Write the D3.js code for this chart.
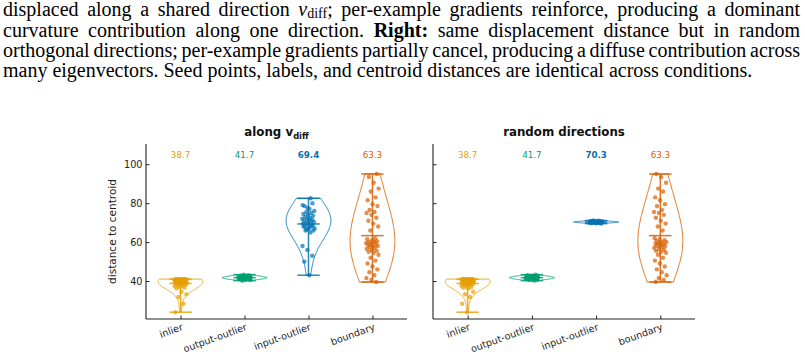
<!DOCTYPE html>
<html>
<head>
<meta charset="utf-8">
<script src="https://cdn.jsdelivr.net/npm/d3@7"></script>
<style>
  body { margin: 0; background: #fff; }
  svg text { font-family: "DejaVu Sans", sans-serif; }
  .para { font-family: "Liberation Serif", "Times New Roman", serif; font-size: 17.6px; fill: #000; }
  .tick text { font-size: 9.7px; fill: #222; }
  .tick line, .domain { stroke: #222; }
</style>
</head>
<body>
<svg id="chart" width="805" height="359"></svg>
<script>
const CATEGORIES = ["inlier", "output-outlier", "input-outlier", "boundary"];
const COLORS = ["#E69F00", "#009E73", "#0072B2", "#D55E00"];
const Y_TICKS = [40, 60, 80, 100];
const Y_LABEL = "distance to centroid";

const INLIER = [24.0, 28.3, 31.8, 33.2, 34.5,
  36.2, 36.6, 37.0, 37.3, 37.6, 37.9, 38.1, 38.3, 38.5, 38.7,
  38.9, 39.0, 39.1, 39.3, 39.4, 39.5, 39.6, 39.7, 39.8, 39.9,
  40.0, 40.0, 40.1, 40.2, 40.2, 40.3, 40.4, 40.4, 40.5, 40.5,
  40.6, 40.6, 40.7, 40.7, 40.7, 40.8, 40.8, 40.8, 40.9, 40.9,
  40.9, 41.0, 41.0, 41.0, 41.0];
const OUTPUT_OUTLIER = [40.2, 40.5, 40.7, 40.9, 41.0, 41.1, 41.2, 41.2, 41.3, 41.3, 41.4, 41.4, 41.4, 41.5,
  41.5, 41.5, 41.6, 41.6, 41.6, 41.7, 41.7, 41.7, 41.8, 41.8, 41.9, 41.9, 42.0, 42.0, 42.1, 42.1,
  42.2, 42.2, 42.3, 42.4, 42.5, 42.6, 42.7, 42.8, 43.0, 43.3];
const INPUT_OUTLIER_SHARED = [43.0, 50.0, 53.0, 56.0, 58.0,
  65.0, 66.0, 66.0, 67.0, 68.0, 68.5, 66.5, 67.0, 67.5, 68.0,
  68.5, 69.0, 69.5, 70.0, 70.0, 70.5, 71.0, 71.0, 71.5, 72.0,
  72.0, 72.5, 73.0, 73.5, 74.0, 74.5, 75.0, 75.5, 76.0, 77.0,
  78.5, 80.0, 77.5, 79.0, 82.5];
const INPUT_OUTLIER_RANDOM = [69.5, 69.7, 69.8, 69.9, 70.0, 70.0, 70.1, 70.1, 70.1, 70.2, 70.2, 70.2, 70.2,
  70.3, 70.3, 70.3, 70.3, 70.3, 70.3, 70.4, 70.4, 70.4, 70.4, 70.5, 70.5, 70.5, 70.6, 70.6, 70.7,
  70.7, 70.8, 70.9, 71.0, 71.1, 70.2, 70.4, 70.1, 70.5, 70.3, 70.0];
const BOUNDARY = [39.5, 40.5, 41.5, 43.0, 44.5, 46.0, 47.5, 49.0, 50.5, 52.0,
  53.5, 54.5, 55.0, 55.5, 56.0, 56.5, 57.0, 57.5, 58.0, 58.0,
  58.5, 59.0, 59.0, 59.5, 60.0, 60.0, 60.5, 61.0, 61.5, 62.0,
  66.0, 68.0, 69.5, 71.0, 72.5, 74.0, 75.0, 75.5, 76.5, 78.5, 79.5,
  81.5, 83.0, 86.0, 87.5, 90.5, 93.5, 95.0];

const MEAN_LABELS_SHARED = ["38.7", "41.7", "69.4", "63.3"];
const MEAN_LABELS_RANDOM = ["38.7", "41.7", "70.3", "63.3"];

const PARA_LINES = [
  [["displaced along a shared direction ", "n"], ["v", "i"], ["diff", "sub"], ["; per-example gradients reinforce, producing a dominant", "n"]],
  [["curvature contribution along one direction. ", "n"], ["Right:", "b"], [" same displacement distance but in random", "n"]],
  [["orthogonal directions; per-example gradients partially cancel, producing a diffuse contribution across", "n"]],
  [["many eigenvectors. Seed points, labels, and centroid distances are identical across conditions.", "n"]],
];

const svg = d3.select("#chart");

// caption paragraph, justified like the LaTeX source
const paraX = 3, paraRight = 800, lastLineRight = 752, paraTop = 16.2, paraLead = 20.4;
const paraLines = PARA_LINES.map((segments, i) => {
  const text = svg.append("text").attr("class", "para").attr("x", paraX).attr("y", paraTop + i * paraLead);
  segments.forEach(([t, style]) => {
    const span = text.append("tspan").text(t);
    if (style === "i") span.attr("font-style", "italic");
    if (style === "b") span.attr("font-weight", "bold");
    if (style === "sub") span.attr("font-size", "0.7em").attr("baseline-shift", "-2");
  });
  return text;
});
const lastLen = paraLines[paraLines.length - 1].node().getComputedTextLength();
const paraSize = 17.6 * (lastLineRight - paraX) / lastLen;
paraLines.forEach((text, i) => {
  text.style("font-size", `${paraSize}px`);
  if (i < paraLines.length - 1) {
    const natural = text.node().getComputedTextLength();
    const spaces = PARA_LINES[i].map((s) => s[0]).join("").split(" ").length - 1;
    text.attr("word-spacing", (paraRight - paraX - natural) / spaces);
  }
});

const KDE_BW = 1.1;
function kdeProfile(values, nPts = 100) {
  const bw = d3.deviation(values) * KDE_BW;
  const [lo, hi] = d3.extent(values);
  return d3.range(nPts).map((i) => {
    const v = lo + ((hi - lo) * i) / (nPts - 1);
    return [v, d3.sum(values, (x) => Math.exp(-0.5 * ((v - x) / bw) ** 2))];
  });
}

const PANELS = [
  { left: 146, right: 407, title: "along", sub: "diff", series: [INLIER, OUTPUT_OUTLIER, INPUT_OUTLIER_SHARED, BOUNDARY], labels: MEAN_LABELS_SHARED, showY: true, phase: 0.1 },
  { left: 433, right: 695, title: "random directions", sub: null, series: [INLIER, OUTPUT_OUTLIER, INPUT_OUTLIER_RANDOM, BOUNDARY], labels: MEAN_LABELS_RANDOM, showY: false, phase: 0.45 },
];

const plotTop = 144, plotBottom = 319;
const y = d3.scaleLinear().domain([20.5, 110.4]).range([plotBottom, plotTop]);
const widths = 0.7;

PANELS.forEach((panel) => {
  const x = d3.scaleLinear().domain([-0.54, 3.54]).range([panel.left, panel.right]);
  const unit = x(1) - x(0);
  const g = svg.append("g");

  // y axis
  g.append("g")
    .attr("transform", `translate(${panel.left},0)`)
    .call(d3.axisLeft(y).tickValues(Y_TICKS).tickSizeInner(-3.5).tickSizeOuter(0).tickPadding(3.5)
      .tickFormat(panel.showY ? d3.format("d") : () => ""))
    .call((a) => a.select(".domain").attr("d", `M0,${plotBottom}V${plotTop}`).attr("stroke-width", 1.1));

  // x axis
  g.append("g")
    .attr("transform", `translate(0,${plotBottom})`)
    .call(d3.axisBottom(x).tickValues([0, 1, 2, 3]).tickSizeInner(-3.5).tickSizeOuter(0).tickFormat((d) => CATEGORIES[d]))
    .call((a) => a.select(".domain").attr("d", `M${panel.left},0H${panel.right}`).attr("stroke-width", 1.1))
    .call((a) => a.selectAll(".tick text")
      .attr("text-anchor", "end")
      .attr("y", 0)
      .attr("dy", "0.78em")
      .attr("transform", "translate(0,3.5) rotate(-20)"));

  if (panel.showY) {
    svg.append("text")
      .attr("transform", `translate(116,${(plotTop + plotBottom) / 2}) rotate(-90)`)
      .attr("text-anchor", "middle")
      .attr("font-size", "10.5px")
      .attr("fill", "#222")
      .text(Y_LABEL);
  }

  const title = svg.append("text")
    .attr("x", (panel.left + panel.right) / 2)
    .attr("y", 136)
    .attr("text-anchor", "middle")
    .attr("font-size", "11.8px")
    .attr("font-weight", "bold")
    .attr("fill", "#111");
  title.append("tspan").text(panel.title);
  if (panel.sub) {
    title.append("tspan").text(" v");
    title.append("tspan").text(panel.sub).attr("font-size", "8.3px").attr("baseline-shift", "-2.5");
  }

  const means = panel.series.map((vals) => d3.mean(vals));
  const maxIdx = d3.maxIndex(means);

  panel.series.forEach((vals, i) => {
    const cx = x(i);
    const color = COLORS[i];
    const prof = kdeProfile(vals);
    const dmax = d3.max(prof, (p) => p[1]);
    const half = (d) => ((0.5 * widths * d) / dmax) * unit;

    g.append("path")
      .datum(prof)
      .attr("d", d3.area().x0((p) => cx - half(p[1])).x1((p) => cx + half(p[1])).y((p) => y(p[0])))
      .attr("fill", "none")
      .attr("stroke", color)
      .attr("stroke-width", 1)
      .attr("stroke-opacity", 0.85);

    const [lo, hi] = d3.extent(vals);
    const capHalf = 0.25 * widths * unit;
    g.append("line")
      .attr("x1", cx).attr("x2", cx).attr("y1", y(lo)).attr("y2", y(hi))
      .attr("stroke", color).attr("stroke-width", 1.5).attr("stroke-opacity", 0.85);
    g.selectAll(null)
      .data([lo, hi, means[i]])
      .join("line")
      .attr("x1", cx - capHalf).attr("x2", cx + capHalf)
      .attr("y1", (d) => y(d)).attr("y2", (d) => y(d))
      .attr("stroke", color).attr("stroke-width", 1.5).attr("stroke-opacity", 0.85);

    g.selectAll(null)
      .data(vals)
      .join("circle")
      .attr("cx", (d, k) => cx + (((k * 0.6180339887 + panel.phase + i * 0.23) % 1) - 0.5) * 0.2 * unit)
      .attr("cy", (d) => y(d))
      .attr("r", 2.2)
      .attr("fill", color)
      .attr("fill-opacity", 0.7);

    svg.append("text")
      .attr("x", cx)
      .attr("y", 158.3)
      .attr("text-anchor", "middle")
      .attr("font-size", "8.7px")
      .attr("font-weight", i === maxIdx ? "bold" : "normal")
      .attr("fill", color)
      .text(panel.labels[i]);
  });
});
</script>
</body>
</html>
